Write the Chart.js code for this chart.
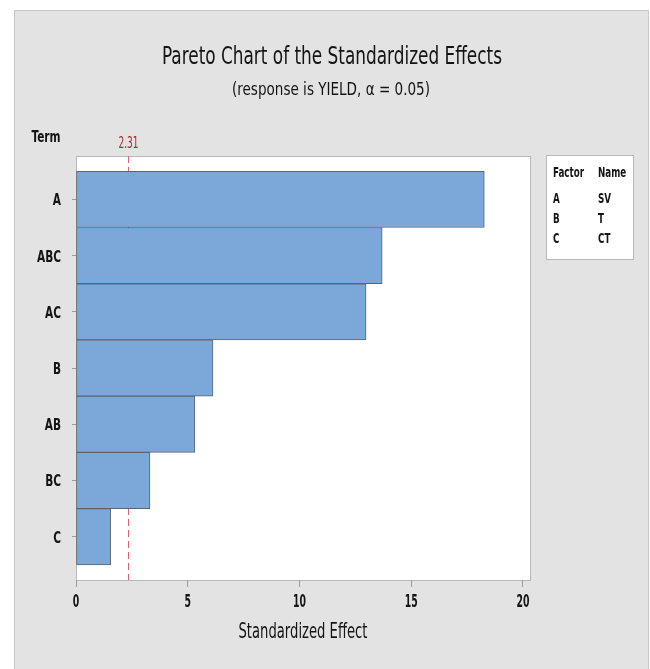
<!DOCTYPE html>
<html>
<head>
<meta charset="utf-8">
<script src="https://cdn.jsdelivr.net/npm/chart.js@4/dist/chart.umd.min.js"></script>
<style>
  html, body { margin: 0; padding: 0; background: #ffffff; }
  #wrap { width: 650px; height: 669px; position: relative; }
</style>
</head>
<body>
<div id="wrap"><canvas id="c" width="650" height="669"></canvas></div>
<script>
// ---- data ----
const terms = ['A', 'ABC', 'AC', 'B', 'AB', 'BC', 'C'];
const effects = [18.27, 13.70, 12.98, 6.13, 5.32, 3.31, 1.55];
const xTickValues = [0, 5, 10, 15, 20];
const refValue = 2.31;
const refLabel = '2.31';
const factorLetters = ['A', 'B', 'C'];
const factorNames = ['SV', 'T', 'CT'];
const titleText = 'Pareto Chart of the Standardized Effects';
const subtitleText = '(response is YIELD, \u03B1 = 0.05)';
const xTitleText = 'Standardized Effect';
const yTitleText = 'Term';

const FONT = "'Liberation Sans Narrow', 'DejaVu Sans Condensed', 'Arial Narrow', sans-serif";
const INK = '#141414';

function setFont(ctx, size, weight) {
  ctx.font = (weight || 'normal') + ' ' + size + 'px ' + FONT;
}
function txt(ctx, s, x, y, size, maxW, align, color, weight) {
  setFont(ctx, size, weight);
  ctx.fillStyle = color || INK;
  ctx.textAlign = align || 'left';
  ctx.textBaseline = 'alphabetic';
  const w = ctx.measureText(s).width;
  if (maxW && w > maxW) ctx.fillText(s, x, y, maxW); else ctx.fillText(s, x, y);
}
// draw text compressed horizontally by factor sx
function txtScaled(ctx, s, x, y, size, sx, align, weight, color) {
  ctx.save();
  setFont(ctx, size, weight);
  ctx.fillStyle = color || INK;
  ctx.textAlign = align;
  ctx.textBaseline = 'alphabetic';
  ctx.translate(x, y);
  ctx.scale(sx, 1);
  ctx.fillText(s, 0, 0);
  ctx.restore();
}
function factorFor(ctx, sample, size, weight, target) {
  setFont(ctx, size, weight);
  return Math.min(1, target / ctx.measureText(sample).width);
}

const panelPlugin = {
  id: 'panel',
  beforeDraw(chart) {
    const ctx = chart.ctx;
    const a = chart.chartArea;
    ctx.save();
    ctx.fillStyle = '#ffffff';
    ctx.fillRect(0, 0, chart.width, chart.height);
    ctx.fillStyle = '#e3e3e3';
    ctx.fillRect(14, 10, 634, 659);
    ctx.strokeStyle = '#c6c6c6';
    ctx.lineWidth = 1;
    ctx.beginPath();
    ctx.moveTo(14.5, 669); ctx.lineTo(14.5, 10.5); ctx.lineTo(648.5, 10.5); ctx.lineTo(648.5, 669);
    ctx.stroke();
    // plot area
    ctx.fillStyle = '#ffffff';
    ctx.fillRect(a.left, a.top, a.right - a.left, a.bottom - a.top);
    ctx.strokeStyle = '#b8b8b8';
    ctx.strokeRect(a.left + 0.5, a.top + 0.5, a.right - a.left - 1, a.bottom - a.top);
    // titles
    txt(ctx, titleText, 332, 64, 25, 340, 'center');
    txt(ctx, subtitleText, 331, 95, 18, 198, 'center');
    const tf = factorFor(ctx, yTitleText, 15, 'bold', 29);
    txtScaled(ctx, yTitleText, 46, 142, 15, tf, 'center', 'bold');
    txt(ctx, xTitleText, 303, 638, 21, 129, 'center');
    // legend box
    ctx.fillStyle = '#ffffff';
    ctx.fillRect(546, 155, 87, 104);
    ctx.strokeStyle = '#b8b8b8';
    ctx.strokeRect(546.5, 155.5, 87, 104);
    const lf = factorFor(ctx, 'Factor', 14, 'bold', 31);
    txtScaled(ctx, 'Factor', 553, 177, 14, lf, 'left', 'bold');
    txtScaled(ctx, 'Name', 598, 177, 14, lf, 'left', 'bold');
    factorLetters.forEach((f, i) => {
      txtScaled(ctx, f, 553, 203 + i * 20, 14, lf, 'left', 'bold');
      txtScaled(ctx, factorNames[i], 598, 203 + i * 20, 14, lf, 'left', 'bold');
    });
    ctx.restore();
  },
  beforeDatasetsDraw(chart) {
    const ctx = chart.ctx;
    const a = chart.chartArea;
    const x = Math.round(chart.scales.x.getPixelForValue(refValue)) + 0.5;
    ctx.save();
    ctx.strokeStyle = '#e0606e';
    ctx.lineWidth = 1;
    ctx.setLineDash([7, 4]);
    ctx.beginPath();
    ctx.moveTo(x, a.top);
    ctx.lineTo(x, a.bottom);
    ctx.stroke();
    ctx.setLineDash([]);
    txt(ctx, refLabel, x, 148, 15, 20, 'center', '#a8282e');
    ctx.restore();
  },
  afterDraw(chart) {
    const ctx = chart.ctx;
    const ys = chart.scales.y, xs = chart.scales.x;
    // y tick labels (positions from the y scale)
    const syY = factorFor(ctx, 'ABC', 16, 'bold', 24);
    ys.ticks.forEach(t => {
      const py = ys.getPixelForValue(t.value);
      txtScaled(ctx, terms[t.value], 61, py + 6, 16, syY, 'right', 'bold');
    });
    // x tick labels (positions from the x scale)
    const sxX = factorFor(ctx, '10', 17, 'bold', 13);
    xs.ticks.forEach(t => {
      const px = xs.getPixelForValue(t.value);
      txtScaled(ctx, String(t.value), px, 607, 17, sxX, 'center', 'bold');
    });
  }
};

new Chart(document.getElementById('c'), {
  type: 'bar',
  data: {
    datasets: [{
      data: effects.map((v, i) => ({ x: v, y: i })),
      backgroundColor: '#7ba7d9',
      borderColor: '#5b6570',
      borderWidth: 1,
      borderSkipped: false,
      barPercentage: 1.0,
      categoryPercentage: 1.0
    }]
  },
  plugins: [panelPlugin],
  options: {
    indexAxis: 'y',
    responsive: false,
    animation: false,
    devicePixelRatio: 1,
    layout: { padding: { left: 0, right: 119, top: 156, bottom: 0 } },
    plugins: {
      legend: { display: false },
      tooltip: { enabled: false },
      title: { display: false },
      subtitle: { display: false }
    },
    scales: {
      x: {
        type: 'linear',
        position: 'bottom',
        min: 0,
        max: 20.36,
        afterBuildTicks(axis) { axis.ticks = xTickValues.map(v => ({ value: v })); },
        afterFit(axis) { axis.height = 89; },
        border: { display: false },
        grid: { display: true, drawOnChartArea: false, drawTicks: true, tickLength: 7, color: '#9a9a9a' },
        ticks: { display: false },
        title: { display: false }
      },
      y: {
        type: 'linear',
        position: 'left',
        reverse: true,
        offset: false,
        min: -0.772,
        max: 6.77,
        afterBuildTicks(axis) { axis.ticks = terms.map((t, i) => ({ value: i })); },
        afterFit(axis) { axis.width = 76; },
        border: { display: false },
        grid: { display: true, offset: false, drawOnChartArea: false, drawTicks: true, tickLength: 4, color: '#9a9a9a' },
        ticks: { display: false }
      }
    }
  }
});
</script>
</body>
</html>
